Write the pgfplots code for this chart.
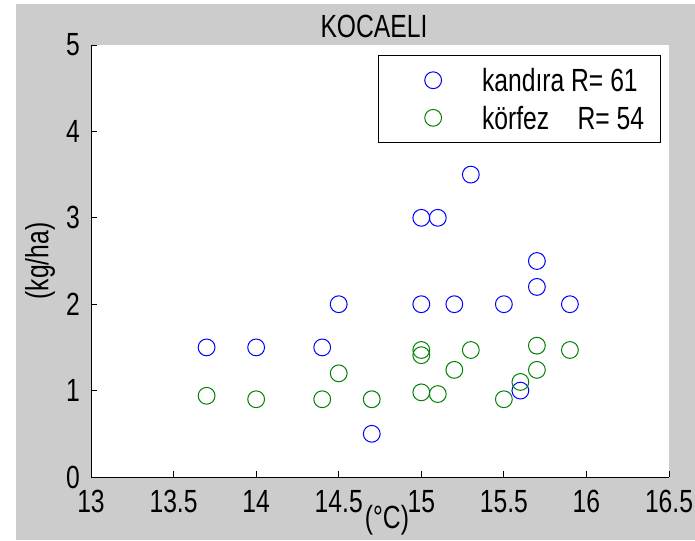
\documentclass[border=0pt]{standalone}
\usepackage{graphicx}
\usepackage{pgfplots}
\pgfplotsset{compat=1.18}
\usepackage{fontspec}
\setmainfont{Liberation Sans}
\definecolor{figgray}{RGB}{204,204,204}
\definecolor{mblue}{RGB}{0,0,255}
\definecolor{mgreen}{RGB}{0,128,0}
\newcommand\ff{\fontsize{18.5pt}{22pt}\selectfont}
\newcommand\st[1]{\scalebox{1}[1.3]{#1}}
\begin{document}
\begin{tikzpicture}
\useasboundingbox (-68.25pt,-47.25pt) rectangle (453pt,357.75pt);
\fill[white] (-68.25pt,-47.25pt) rectangle (453pt,357.75pt);
\fill[figgray] (-56.25pt,-47.25pt) rectangle (453pt,354.75pt);
\begin{axis}[
  at={(0pt,0pt)}, anchor=south west,
  scale only axis, width=433.5pt, height=324pt,
  xmin=13, xmax=16.5, ymin=0, ymax=5,
  xtick={13,13.5,14,14.5,15,15.5,16,16.5},
  ytick={0,1,2,3,4,5},
  axis x line*=bottom, axis y line*=left,
  axis line style={-, black, line width=0.75pt},
  axis background/.style={fill=white},
  tick align=inside, major tick length=4.3pt,
  tick style={black, line width=0.75pt},
  xticklabel={\st{\pgfmathprintnumber[assume math mode=true]{\tick}}},
  yticklabel={\st{\pgfmathprintnumber[assume math mode=true]{\tick}}},
  tick label style={font=\ff, text=black},
  xticklabel style={inner sep=0pt, anchor=north, yshift=-9.5pt},
  yticklabel style={inner sep=0pt, anchor=east, xshift=-8.25pt},
  title={\st{KOCAELI}},
  title style={font=\ff, at={(axis description cs:0.4896,1.044)}, anchor=center, yshift=-6pt},
  xlabel={\st{(°C)}},
  xlabel style={font=\ff, at={(axis description cs:0.512,-0.0995)}, anchor=center},
  ylabel={\st{(kg/ha)}},
  ylabel style={font=\ff, at={(axis description cs:-0.0882,0.5)}, anchor=center},
  legend style={at={(0.4965,0.977)}, anchor=north west, draw=black, line width=0.75pt,
    fill=white, inner xsep=0pt, inner ysep=4.5pt, column sep=0pt, row sep=0pt,
    font=\ff, cells={anchor=west}, nodes={inner sep=0pt, text depth=0pt}},
  legend image code/.code={%
    \path[draw=none, fill=none] (0pt,-14.1pt) rectangle (77.7pt,14.1pt);
    \draw[mark repeat=2,mark phase=2,#1] plot coordinates {(40pt,0pt)(41pt,0pt)(42pt,0pt)};},
]
\addplot[only marks, mark=o, mark size=6.3pt, color=mblue, mark options={line width=0.75pt}]
  coordinates {(15.3,3.5)(15.0,3.0)(15.1,3.0)(15.7,2.5)(15.7,2.2)(14.5,2.0)(15.0,2.0)(15.2,2.0)(15.5,2.0)(15.9,2.0)(13.7,1.5)(14.0,1.5)(14.4,1.5)(14.7,0.5)(15.6,1.0)};
\addlegendentry{\makebox[133.8pt][l]{\st{kandıra R= 61}}}
\addplot[only marks, mark=o, mark size=6.3pt, color=mgreen, mark options={line width=0.75pt}]
  coordinates {(13.7,0.94)(14.0,0.9)(14.4,0.9)(14.7,0.9)(14.5,1.2)(15.0,0.98)(15.1,0.96)(15.0,1.47)(15.0,1.41)(15.3,1.47)(15.2,1.24)(15.5,0.9)(15.6,1.1)(15.7,1.52)(15.7,1.24)(15.9,1.47)};
\addlegendentry{\makebox[133.8pt][l]{\st{körfez\hspace{1.15em}R= 54}}}
\end{axis}
\end{tikzpicture}
\end{document}
